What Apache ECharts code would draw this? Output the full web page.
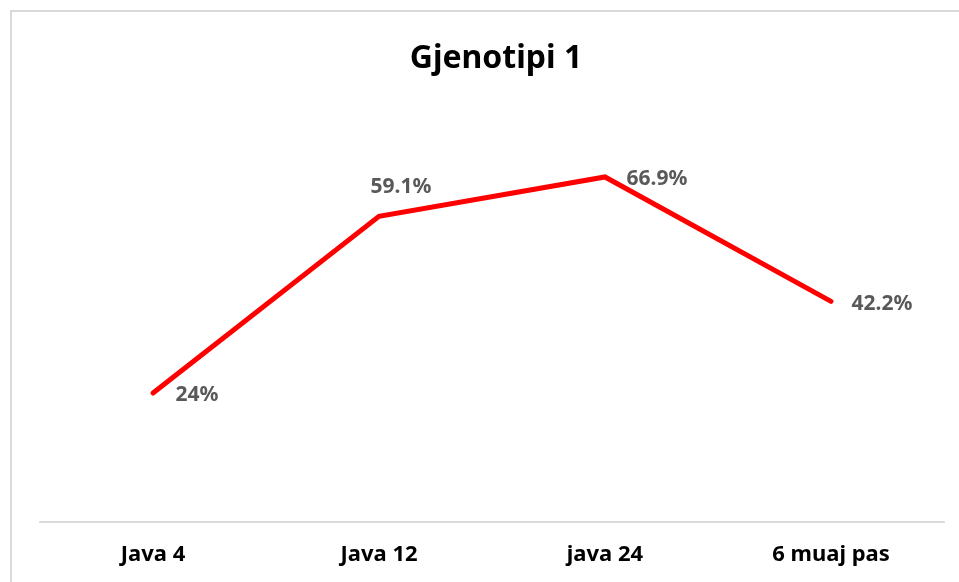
<!DOCTYPE html>
<html>
<head>
<meta charset="utf-8">
<script src="https://cdn.jsdelivr.net/npm/echarts@6/dist/echarts.min.js"></script>
<style>
html,body{margin:0;padding:0;background:#fff;}
#chart{width:959px;height:582px;}
</style>
</head>
<body>
<div id="chart"></div>
<script>
var titleText = 'Gjenotipi 1';
var categories = ['Java 4', 'Java 12', 'java 24', '6 muaj pas'];
var values = [24, 59.1, 66.9, 42.2];
var labelTexts = ['24%', '59.1%', '66.9%', '42.2%'];

var labelOffsets = [[44, 2], [22, -29], [52, 2], [51, 3]];
var FONT = "'Noto Sans', 'Open Sans', sans-serif";

var chart = echarts.init(document.getElementById('chart'), null, {renderer: 'canvas'});
var seriesData = values.map(function (v, i) {
  return {
    value: v,
    label: {offset: labelOffsets[i]}
  };
});

chart.setOption({
  animation: false,
  backgroundColor: '#ffffff',
  title: {
    text: titleText,
    left: 491,
    top: 38,
    textAlign: 'center',
    textStyle: {fontFamily: FONT, fontWeight: 'bold', fontSize: 32, lineHeight: 32, color: '#000000'}
  },
  graphic: [{
    type: 'rect',
    shape: {x: 11, y: 11, width: 960, height: 600},
    style: {fill: 'none', stroke: '#d9d9d9', lineWidth: 2},
    silent: true,
    z: -1
  }],
  grid: {left: 40, right: 15, top: 111, bottom: 60.5, containLabel: false},
  xAxis: {
    type: 'category',
    data: categories,
    boundaryGap: true,
    axisLine: {show: true, onZero: false, lineStyle: {color: '#d9d9d9', width: 2}},
    axisTick: {show: false},
    axisLabel: {
      margin: 22,
      fontFamily: FONT, fontWeight: 'bold', fontSize: 22, lineHeight: 22, color: '#000000'
    },
    splitLine: {show: false}
  },
  yAxis: {
    type: 'value',
    min: -1.5,
    max: 80,
    show: false,
    splitLine: {show: false}
  },
  series: [{
    type: 'line',
    data: seriesData,
    symbol: 'circle',
    symbolSize: 1,
    lineStyle: {color: '#ff0000', width: 5, cap: 'round', join: 'miter'},
    itemStyle: {color: '#ff0000'},
    label: {
      show: true,
      position: 'inside',
      formatter: function (p) { return labelTexts[p.dataIndex]; },
      fontFamily: FONT, fontWeight: 'bold', fontSize: 21, color: '#595959'
    }
  }]
});
</script>
</body>
</html>
